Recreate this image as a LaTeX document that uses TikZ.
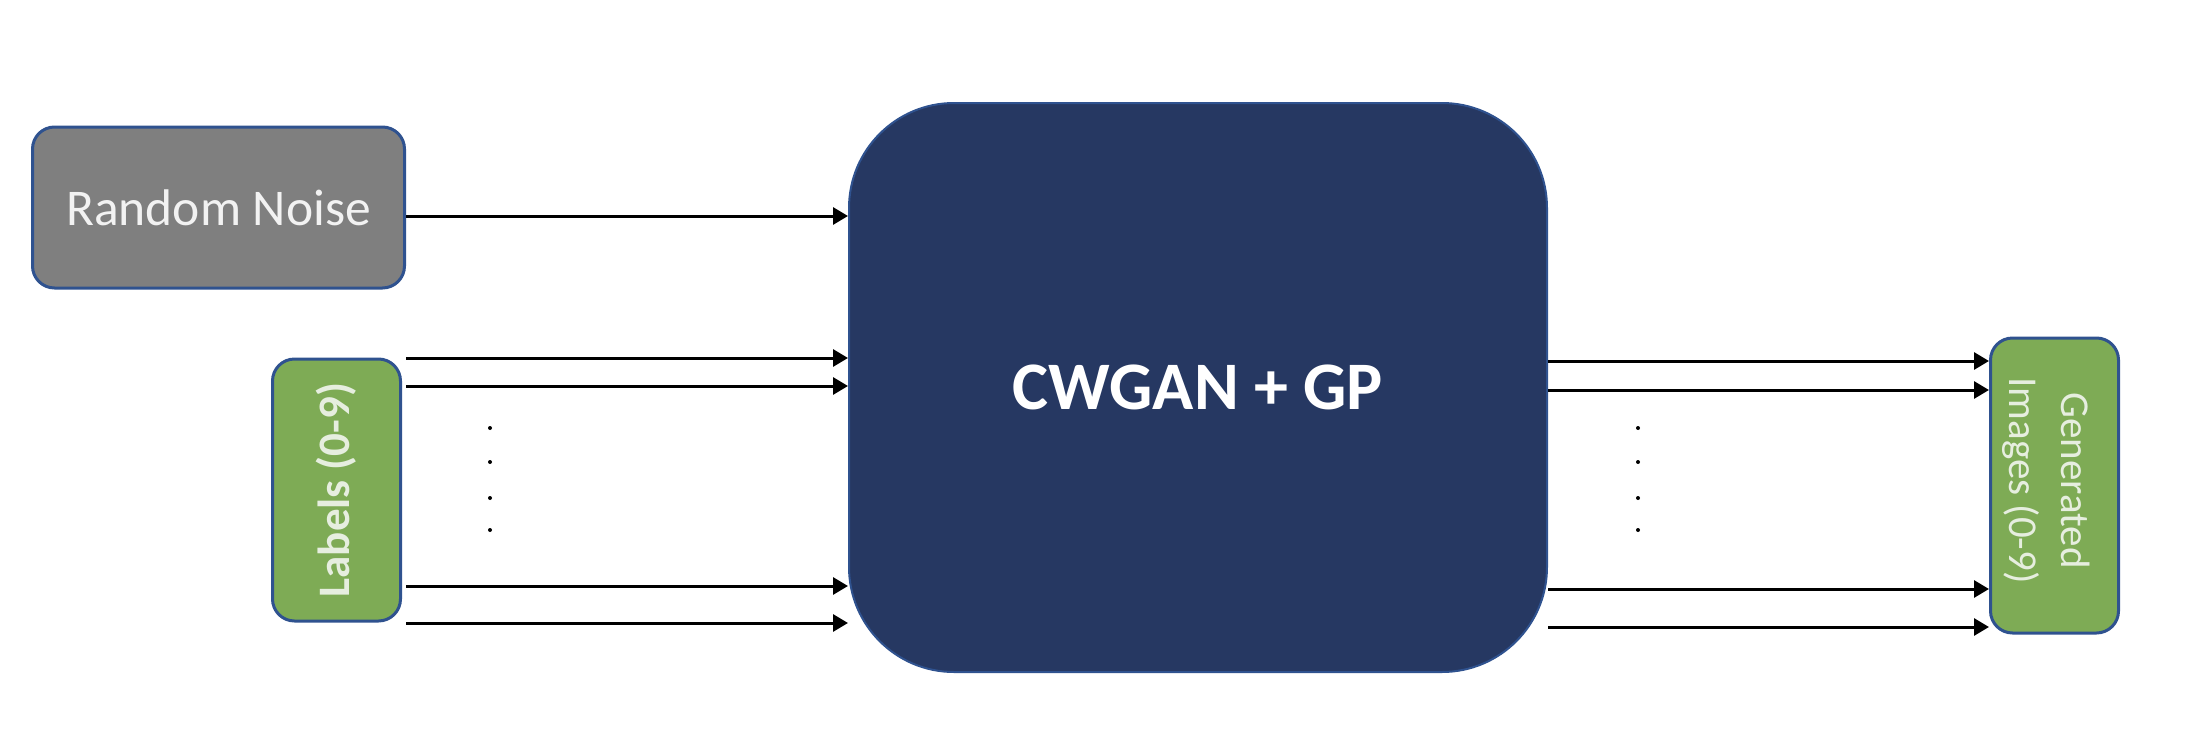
\documentclass[tikz,border=0pt]{standalone}
\usepackage{fontspec}
\setmainfont{Carlito}
\usetikzlibrary{arrows.meta}
\definecolor{rnfill}{HTML}{7F7F7F}
\definecolor{edgeblue}{HTML}{2F528F}
\definecolor{mainfill}{HTML}{263862}
\definecolor{grfill}{HTML}{7EAB55}
\definecolor{lighttext}{HTML}{E6EEDF}
\tikzset{
  box/.style={draw=edgeblue, line width=3pt, rounded corners=22pt, inner sep=0pt, anchor=center},
  arr/.style={line width=3pt, -{Triangle[length=15pt,width=17pt]}},
  dotmark/.style={circle, fill=black, inner sep=0pt, minimum size=4pt},
}
\begin{document}
\begin{tikzpicture}[x=1pt,y=-1pt]
\useasboundingbox (0,0) rectangle (2212,750);
% nodes
\node[box, fill=rnfill, minimum width=372pt, minimum height=161pt, text=white!95!black,
      font=\fontsize{51.5}{60}\selectfont] (rn) at (218.5,207.5) {Random Noise};
\node[box, fill=mainfill, line width=2pt, rounded corners=105pt, minimum width=698pt, minimum height=569pt,
      text=white, font=\bfseries\fontsize{68}{80}\selectfont] (main) at (1198,387.5) {CWGAN + GP};
\node[box, fill=grfill, minimum width=128pt, minimum height=262pt] (lab) at (336.5,490) {};
\node[rotate=90, text=lighttext, font=\bfseries\fontsize{45}{54}\selectfont] (labt) at (lab.center) {Labels (0-9)};
\node[box, fill=grfill, minimum width=128pt, minimum height=295pt] (gen) at (2054.5,485.5) {};
\node[rotate=-90, text=lighttext, align=center, font=\fontsize{41}{52}\selectfont] (gent) at ([xshift=-8pt,yshift=5pt]gen.center) {Generated\\Images (0-9)};
% connectors
\draw[arr] (rn.east |- 0,216) -- (main.west |- 0,216);
\foreach \yy in {358,386,586,623}{
  \draw[arr] ([xshift=4pt]lab.east |- 0,\yy) -- (main.west |- 0,\yy);
}
\foreach \yy in {361,390,589,627}{
  \draw[arr] (main.east |- 0,\yy) -- (gen.west |- 0,\yy);
}
% dots
\foreach \yy [count=\i] in {428,462,498,530}{
  \node[dotmark] (ld\i) at (490,\yy) {};
  \node[dotmark] (rd\i) at (1638,\yy) {};
}
\end{tikzpicture}
\end{document}
